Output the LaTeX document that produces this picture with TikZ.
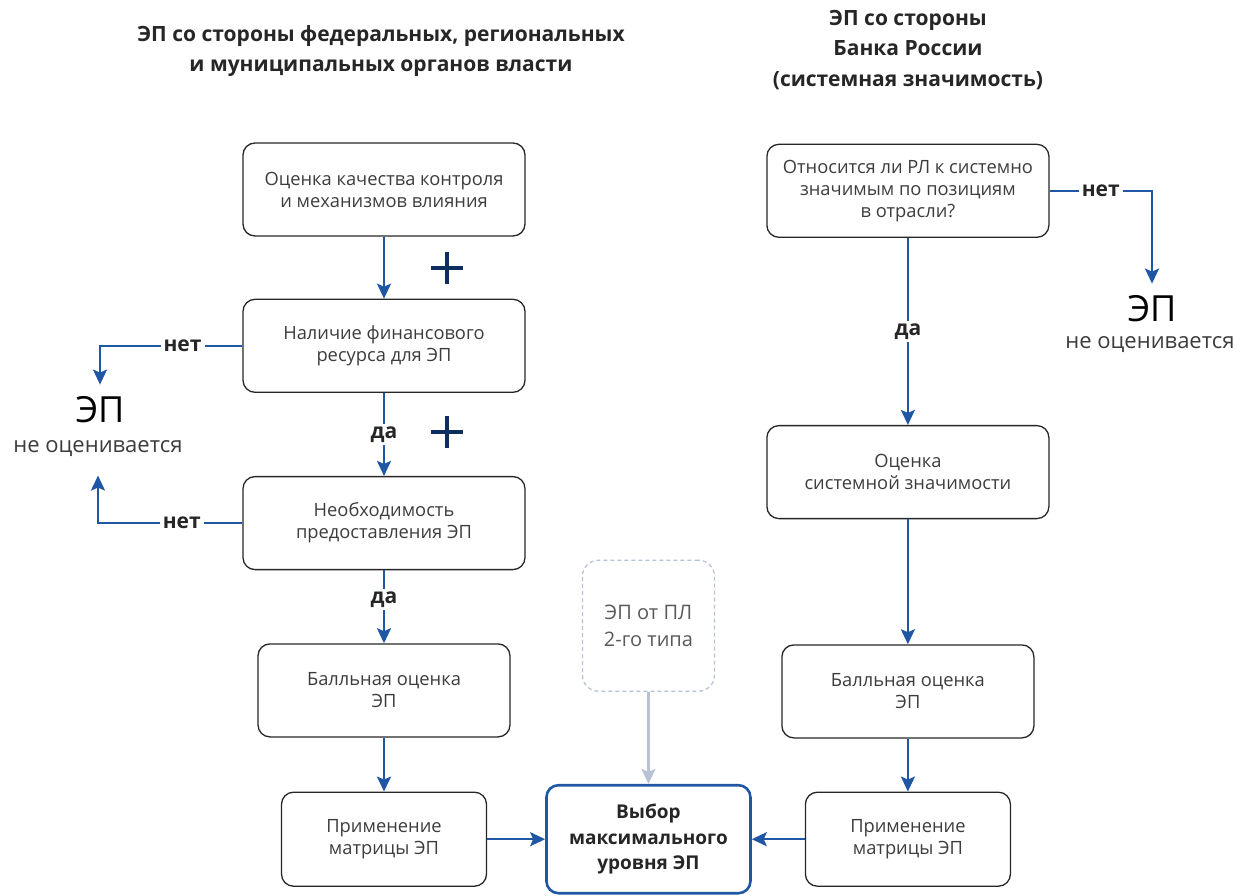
\documentclass[tikz,border=0pt]{standalone}
\usepackage{fontspec}
\setmainfont{Open Sans}
\usetikzlibrary{arrows.meta,positioning}
\definecolor{cbrblue}{HTML}{1F57A4}
\definecolor{cbrnavy}{HTML}{0E2F5E}
\definecolor{cbrgrey}{HTML}{B7C3D5}
\definecolor{txtgrey}{HTML}{3C3C3C}

\begin{document}
\begin{tikzpicture}[x=1pt,y=-1pt,>={Stealth[length=15pt,width=14pt,inset=3pt]},
 font=\fontsize{18.3}{22}\selectfont,
 box/.style={draw=black!85,line width=1.3pt,rounded corners=12pt,text=txtgrey,minimum width=282pt,minimum height=93pt,align=center},
 scorebox/.style={minimum width=252pt},
 matrixbox/.style={minimum width=205pt,minimum height=94pt},
 choice/.style={box,draw=cbrblue,line width=2.6pt,minimum width=204pt,minimum height=108pt,font=\bfseries\fontsize{19}{25.5}\selectfont,text=black!85},
 extbox/.style={box,draw=cbrgrey,dash pattern=on 4pt off 3pt,minimum width=132pt,minimum height=131pt,rounded corners=16pt,text=txtgrey!85,font=\fontsize{20}{27}\selectfont},
 flow/.style={->,line width=2.3pt,cbrblue},
 extflow/.style={->,line width=2.3pt,cbrgrey},
 lbl/.style={fill=white,font=\bfseries\fontsize{21}{22}\selectfont,text=black!85,inner sep=3pt},
 title/.style={align=center,font=\bfseries\fontsize{21}{30.5}\selectfont,text=black!85},
 skipbig/.style={font=\fontsize{36}{38}\selectfont,text=black,inner sep=12pt},
 skipnote/.style={font=\fontsize{22}{24}\selectfont,text=txtgrey},
 plus/.pic={\draw[line width=4.5pt,cbrnavy] (-16,0) -- (16,0) (0,-16) -- (0,16);}]
\useasboundingbox (0,0) rectangle (1248,896);

\node[title] (titleL) at (381,51) {ЭП со стороны федеральных, региональных\\и муниципальных органов власти};
\node[title] (titleR) at (908,50) {ЭП со стороны\\Банка России\\(системная значимость)};

% left column
\node[box] (ctrl) at (384,189.5) {Оценка качества контроля\\и механизмов влияния};
\node[box,below=62pt of ctrl] (fin) {Наличие финансового\\ресурса для ЭП};
\node[box,below=83pt of fin] (need) {Необходимость\\предоставления ЭП};
\node[box,scorebox,below=73pt of need] (scoreL) {Балльная оценка\\ЭП};
\node[box,matrixbox,below=54pt of scoreL] (matL) {Применение\\матрицы ЭП};

% centre and right column
\node[choice,right=58pt of matL] (choice) {Выбор\\максимального\\уровня ЭП};
\node[box,matrixbox,right=53pt of choice] (matR) {Применение\\матрицы ЭП};
\node[box,scorebox,above=53pt of matR] (scoreR) {Балльная оценка\\ЭП};
\node[box,above=125pt of scoreR] (sysval) {Оценка\\системной значимости};
\node[box,above=187pt of sysval] (sysq) {Относится ли РЛ к системно\\значимым по позициям\\в отрасли?};
\node[extbox,above=92pt of choice] (plII) {ЭП от ПЛ\\2-го типа};

\node[skipbig] (skipL) at (100,410) {ЭП};
\node[skipnote] (skipLnote) at (98,449) {не оценивается};
\node[skipbig] (skipR) at (1152,309) {ЭП};
\node[skipnote] (skipRnote) at (1150,345) {не оценивается};

\pic at (447,268) {plus};
\pic at (447,432) {plus};

\draw[flow] (ctrl) -- (fin);
\draw[flow] (fin) -- node[lbl]{да} (need);
\draw[flow] (need) -- node[lbl,pos=0.4]{да} (scoreL);
\draw[flow] (scoreL) -- (matL);
\draw[flow] (matL) -- (choice);
\draw[flow] (matR) -- (choice);
\draw[extflow] (plII) -- (choice);
\draw[flow] (sysq) -- node[lbl]{да} (sysval);
\draw[flow] (sysval) -- (scoreR);
\draw[flow] (scoreR) -- (matR);
\draw[flow] (fin.west) -| node[lbl,pos=0.21]{нет} (skipL.north);
\draw[flow,shorten >=15pt] (need.west) -| node[lbl,pos=0.21]{нет} (skipLnote.south);
\draw[flow] (sysq.east) -| node[lbl,pos=0.25]{нет} (skipR.north);
\end{tikzpicture}
\end{document}
